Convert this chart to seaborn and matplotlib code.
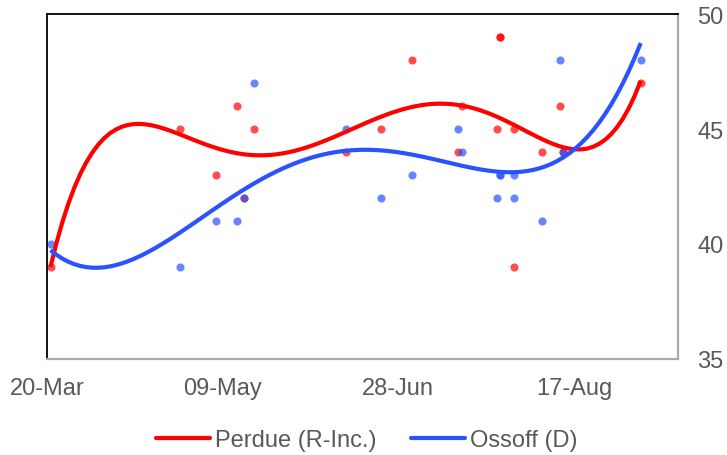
import matplotlib
matplotlib.use("Agg")
import matplotlib.pyplot as plt
from matplotlib.lines import Line2D
import seaborn as sns
import pandas as pd
import numpy as np

# ---- data ----
poll_dates = ["2020-03-21", "2020-04-27", "2020-05-07", "2020-05-13", "2020-05-15",
              "2020-05-18", "2020-06-13", "2020-06-23", "2020-07-02", "2020-07-15",
              "2020-07-16", "2020-07-26", "2020-07-27", "2020-07-27", "2020-07-31",
              "2020-07-31", "2020-08-08", "2020-08-13", "2020-08-14", "2020-09-05"]
perdue = [39, 45, 43, 46, 42, 45, 44, 45, 48, 44, 46, 45, 49, 49, 45, 39, 44, 46, 44, 47]
ossoff = [40, 39, 41, 41, 42, 47, 45, 42, 43, 45, 44, 42, 43, 43, 43, 42, 41, 48, 44, 48]
series_names = ["Perdue (R-Inc.)", "Ossoff (D)"]
trend_orders = [5, 4]
tick_dates = ["2020-03-20", "2020-05-09", "2020-06-28", "2020-08-17"]
tick_labels = ["20-Mar", "09-May", "28-Jun", "17-Aug"]
y_ticks = [35, 40, 45, 50]

base = pd.Timestamp("2020-03-20")
days = (pd.to_datetime(poll_dates) - base).days.to_numpy().astype(float)
tick_days = (pd.to_datetime(tick_dates) - base).days.to_numpy().astype(float)

df = pd.DataFrame({"day": days, "Perdue": perdue, "Ossoff": ossoff})

sns.set_theme(style="white")
plt.rcParams["font.family"] = ["Liberation Sans", "DejaVu Sans"]

RED = "#ff0000"
BLUE = "#2a52fe"
TXT = "#595959"
FS = 17

fig = plt.figure(figsize=(7.27, 4.56), dpi=100)
ax = fig.add_axes([47 / 727, 1 - 360 / 456, 631 / 727, 345 / 456])

sns.scatterplot(data=df, x="day", y="Perdue", ax=ax, color=RED, alpha=0.7,
                s=34, linewidth=0, zorder=2)
sns.scatterplot(data=df, x="day", y="Ossoff", ax=ax, color=BLUE, alpha=0.7,
                s=34, linewidth=0, zorder=2)
sns.regplot(data=df, x="day", y="Perdue", ax=ax, order=trend_orders[0], ci=None,
            scatter=False, truncate=True,
            line_kws=dict(color=RED, lw=3, zorder=3, solid_capstyle="butt"))
sns.regplot(data=df, x="day", y="Ossoff", ax=ax, order=trend_orders[1], ci=None,
            scatter=False, truncate=True,
            line_kws=dict(color=BLUE, lw=3, zorder=3, solid_capstyle="butt"))

ax.set_xlim(0, 631 / 3.513)
ax.set_ylim(35, 50)
ax.set_xlabel("")
ax.set_ylabel("")

ax.set_xticks(tick_days)
ax.set_xticklabels(tick_labels)
ax.set_yticks(y_ticks)
ax.yaxis.tick_right()
ax.tick_params(axis="both", length=0, labelsize=FS, labelcolor=TXT)
ax.tick_params(axis="x", pad=13)
ax.tick_params(axis="y", pad=14)

for side in ["top", "left"]:
    ax.spines[side].set_color("#000000")
    ax.spines[side].set_linewidth(1.3)
for side in ["bottom", "right"]:
    ax.spines[side].set_color("#aaaaaa")
    ax.spines[side].set_linewidth(1.6)
ax.grid(False)

handles = [Line2D([], [], color=RED, lw=3), Line2D([], [], color=BLUE, lw=3)]
fig.legend(handles, series_names, loc="center left", bbox_to_anchor=(156 / 727, 15 / 456),
           ncol=2, frameon=False, fontsize=FS, handlelength=2.3, handletextpad=0.2,
           columnspacing=1.45, borderpad=0, borderaxespad=0, labelcolor=TXT)

fig.savefig("out.png", dpi=100)
